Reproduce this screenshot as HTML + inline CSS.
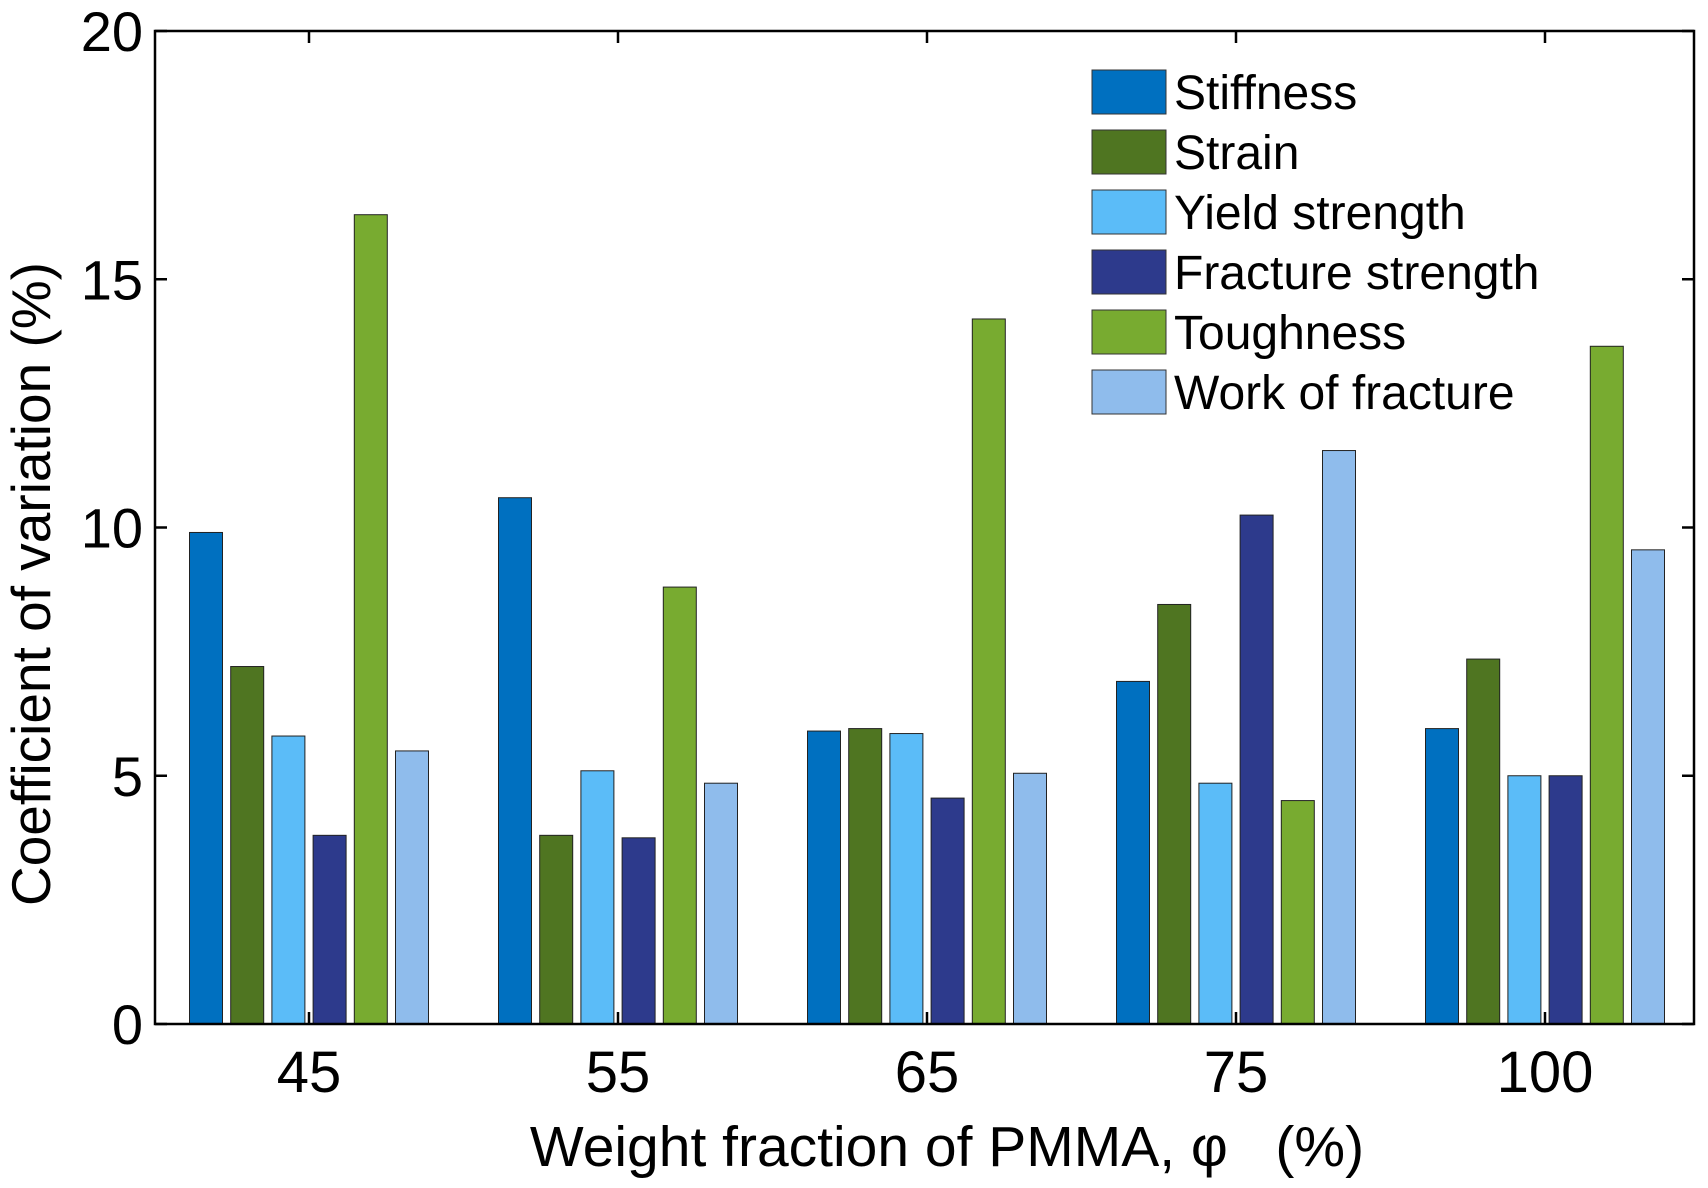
<!DOCTYPE html>
<html><head><meta charset="utf-8"><style>
html,body{margin:0;padding:0;background:#fff;}
svg{display:block;font-family:"Liberation Sans",Arial,sans-serif;}
</style></head><body>
<svg id="chart" width="1708" height="1188" viewBox="0 0 1708 1188">
<g id="bars"></g>
<g id="axes"></g>
<g id="legend"></g>
<text x="50" y="584" font-size="55" text-anchor="middle" transform="rotate(-90 50 584)">Coefficient of variation (%)</text>
<text x="947" y="1166" font-size="57" text-anchor="middle" xml:space="preserve">Weight fraction of PMMA, φ   (%)</text>
</svg>
<script>
const categories = ["45","55","65","75","100"];
const seriesNames = ["Stiffness","Strain","Yield strength","Fracture strength","Toughness","Work of fracture"];
const stiffness = [9.9,10.6,5.9,6.9,5.95];
const strain = [7.2,3.8,5.95,8.45,7.35];
const yieldStrength = [5.8,5.1,5.85,4.85,5.0];
const fractureStrength = [3.8,3.75,4.55,10.25,5.0];
const toughness = [16.3,8.8,14.2,4.5,13.65];
const workOfFracture = [5.5,4.85,5.05,11.55,9.55];
const yTicks = [0,5,10,15,20];
const colors = ["#0070c0","#4f7521","#5bbcf8","#2d3a8c","#78ab30","#8fbcec"];
const series = [stiffness,strain,yieldStrength,fractureStrength,toughness,workOfFracture];

const NS="http://www.w3.org/2000/svg";
const L=155,R=1694,T=31,B=1024;
const yMax=20;
function yS(v){return B-(v/yMax)*(B-T);}
function xS(i){return 309+i*309;}
const stride=41.2,bw=33;
function mk(tag,attrs,parent){const e=document.createElementNS(NS,tag);for(const k in attrs)e.setAttribute(k,attrs[k]);parent.appendChild(e);return e;}

const gb=document.getElementById('bars');
series.forEach((s,si)=>{
  s.forEach((v,ci)=>{
    const cx=xS(ci)+(si-2.5)*stride;
    const r=mk('rect',{x:cx-bw/2,y:yS(v),width:bw,height:yS(0)-yS(v),fill:colors[si],stroke:"#222","stroke-width":1},gb);
    
    
  });
});

const ga=document.getElementById('axes');
const fr=mk('rect',{x:L,y:T,width:R-L,height:B-T,fill:"none",stroke:"#000","stroke-width":2.5},ga);


yTicks.forEach(t=>{
  const y=yS(t);
  mk('line',{x1:L,x2:L+12,y1:y,y2:y,stroke:"#000","stroke-width":2.5},ga);
  mk('line',{x1:R,x2:R-12,y1:y,y2:y,stroke:"#000","stroke-width":2.5},ga);
  const tx=mk('text',{x:L-12,y:y+20,"font-size":56,"text-anchor":"end"},ga);
  tx.textContent=t;
  
  
});
categories.forEach((c,i)=>{
  const x=xS(i);
  mk('line',{x1:x,x2:x,y1:B,y2:B-12,stroke:"#000","stroke-width":2.5},ga);
  mk('line',{x1:x,x2:x,y1:T,y2:T+12,stroke:"#000","stroke-width":2.5},ga);
  const tx=mk('text',{x:x,y:1092,"font-size":58,"text-anchor":"middle"},ga);
  tx.textContent=c;
  
  
});

const gl=document.getElementById('legend');
seriesNames.forEach((n,i)=>{
  const cy=92+i*60;
  const g=mk('g',{},gl);
  
  
  mk('rect',{x:1092,y:cy-22,width:74,height:44,fill:colors[i],stroke:"#333","stroke-width":1},g);
  const t=mk('text',{x:1174,y:cy+17,"font-size":48},g);
  t.textContent=n;
});
</script>
</body></html>
